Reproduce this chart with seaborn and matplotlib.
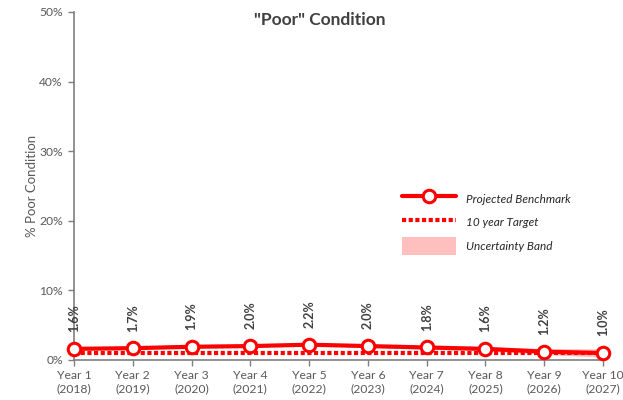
import pandas as pd
import matplotlib.pyplot as plt
import seaborn as sns
from matplotlib.patches import Patch
from matplotlib.lines import Line2D

# Chart data
years = ['Year 1\n(2018)', 'Year 2\n(2019)', 'Year 3\n(2020)', 'Year 4\n(2021)', 'Year 5\n(2022)',
         'Year 6\n(2023)', 'Year 7\n(2024)', 'Year 8\n(2025)', 'Year 9\n(2026)', 'Year 10\n(2027)']
benchmark = [1.6, 1.7, 1.9, 2.0, 2.2, 2.0, 1.8, 1.6, 1.2, 1.0]
target = [1.0] * 10
band_low = [1.45, 1.55, 1.75, 1.85, 2.05, 1.8, 1.55, 1.3, 0.8, 0.4]
band_high = [1.75, 1.85, 2.05, 2.15, 2.35, 2.2, 2.05, 1.9, 1.65, 1.6]

df = pd.DataFrame({'x': range(len(years)), 'bench': benchmark, 'target': target,
                   'lo': band_low, 'hi': band_high})

sns.set_style('white')
plt.rcParams['font.family'] = ['Lato', 'DejaVu Sans']
gray = '#595959'

fig = plt.figure(figsize=(6.23, 4.00), dpi=100)
ax = fig.add_axes([74 / 623, 40 / 400, (603 - 74) / 623, 348 / 400])

ax.fill_between(df['x'], df['lo'], df['hi'], color='#ffb3b3', alpha=0.8, lw=0, zorder=1)
ax.plot(df['x'], df['target'], color='red', lw=3, linestyle=(0, (1, 0.6)), zorder=2, clip_on=False)
sns.lineplot(data=df, x='x', y='bench', ax=ax, color='red', lw=3, marker='o', markersize=9,
             markerfacecolor='white', markeredgecolor='red', markeredgewidth=2.2,
             zorder=3, clip_on=False)

for xi, v in zip(df['x'], df['bench']):
    ax.annotate(f'{v:.1f}%', (xi, v), xytext=(0, 12), textcoords='offset points',
                rotation=90, ha='center', va='bottom', fontsize=9, fontweight='bold',
                color='#404040')

ax.set_xlim(0, 9)
ax.set_ylim(0, 50)
ax.set_yticks([0, 10, 20, 30, 40, 50])
ax.set_yticklabels([f'{t}%' for t in [0, 10, 20, 30, 40, 50]])
ax.set_xticks(df['x'])
ax.set_xticklabels(years, linespacing=1.25)
ax.set_xlabel('')
ax.set_ylabel('% Poor Condition', color=gray, fontsize=9.5, labelpad=1)

for s in ['top', 'right']:
    ax.spines[s].set_visible(False)
for s in ['left', 'bottom']:
    ax.spines[s].set_color('#7f7f7f')
    ax.spines[s].set_linewidth(1.2)
ax.tick_params(axis='both', colors='#7f7f7f', labelcolor=gray, labelsize=8.7,
               length=4, width=1, direction='out', left=True, bottom=True)
ax.tick_params(axis='y', pad=4)
ax.tick_params(axis='x', pad=3)

fig.text(320 / 623, 1 - 20 / 400, '"Poor" Condition', ha='center', va='center',
         fontsize=12.5, fontweight='bold', color='#404040')

handles = [
    Line2D([], [], color='red', lw=3, marker='o', markersize=9, markerfacecolor='white',
           markeredgecolor='red', markeredgewidth=2.2),
    Line2D([], [], color='red', lw=3, linestyle=(0, (1, 0.6))),
    Patch(facecolor='#ffbfbf', edgecolor='none'),
]
labels = ['Projected Benchmark', '10 year Target', 'Uncertainty Band']
leg = ax.legend(handles, labels, loc='upper left', bbox_to_anchor=(0.6, 0.52),
                frameon=False, prop={'style': 'italic', 'size': 8.5}, handlelength=4.6,
                handleheight=2.0, labelspacing=0.45, handletextpad=0.8)
for t in leg.get_texts():
    t.set_color('#262626')

fig.savefig('out.png', dpi=100)
